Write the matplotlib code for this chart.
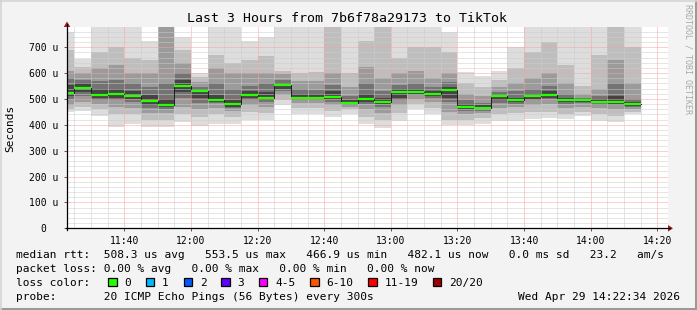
import numpy as np
import matplotlib as mpl
mpl.use('Agg')  # no display
import matplotlib.pyplot as plt
from matplotlib.patches import Rectangle, Polygon
from matplotlib.lines import Line2D

# 5 minute slots (minutes after 11:00 at which each slot starts)
slot_start = np.arange(20, 195, 5)

# median rtt per slot [us]
median = [524, 542.5, 515.5, 520.5, 511.6, 493.4, 476.8, 550, 532, 497, 480.7, 515.5,
          502.7, 553.5, 502.7, 502.7, 507.7, 485.7, 500, 488.4, 528.4, 528.4, 520.5, 536,
          470.3, 466.9, 512.9, 495, 510.4, 515.5, 495, 495, 489.7, 489.7, 482.1]

# smoke bands, outer (lo1/hi1) to inner (lo5/hi5) [us]
lo1 = [448, 452, 435, 392, 405, 392, 390, 412, 395, 405, 405, 418, 418, 476, 440, 440, 430, 440,
       405, 388, 415, 460, 440, 398, 400, 405, 415, 415, 422, 425, 422, 435, 415, 410, 440]
lo2 = [462, 468, 460, 440, 440, 420, 420, 440, 430, 440, 430, 450, 445, 495, 465, 465, 455, 460,
       430, 420, 445, 480, 465, 420, 420, 425, 440, 445, 450, 450, 440, 450, 440, 435, 450]
lo3 = [478, 490, 480, 470, 465, 445, 445, 470, 460, 465, 455, 475, 470, 515, 485, 485, 475, 470,
       460, 445, 475, 500, 490, 450, 440, 445, 465, 470, 475, 480, 465, 470, 465, 460, 460]
lo4 = [500, 510, 495, 495, 490, 465, 460, 505, 485, 485, 465, 495, 490, 530, 495, 495, 490, 478,
       480, 470, 495, 515, 505, 490, 455, 455, 485, 480, 495, 500, 480, 485, 478, 475, 468]
lo5 = [510, 525, 505, 505, 500, 478, 470, 525, 505, 490, 470, 505, 495, 540, 500, 500, 500, 482,
       490, 480, 505, 520, 510, 505, 462, 460, 495, 488, 500, 505, 488, 490, 484, 482, 472]
hi5 = [555, 560, 540, 540, 530, 515, 500, 575, 540, 515, 495, 530, 525, 560, 520, 520, 530, 495,
       520, 505, 540, 540, 530, 545, 480, 475, 520, 505, 520, 530, 505, 500, 500, 510, 490]
hi4 = [580, 575, 570, 575, 560, 545, 560, 600, 548, 560, 540, 550, 560, 575, 540, 535, 555, 510,
       560, 530, 555, 560, 545, 565, 495, 485, 525, 530, 540, 550, 520, 505, 510, 560, 500]
hi3 = [610, 600, 620, 630, 600, 600, 790, 640, 565, 620, 600, 600, 600, 595, 570, 570, 600, 545,
       622, 580, 600, 610, 580, 600, 520, 510, 545, 560, 580, 600, 560, 520, 540, 650, 560]
hi2 = [690, 625, 680, 700, 660, 650, 800, 690, 585, 670, 640, 650, 665, 610, 600, 605, 800, 600,
       725, 800, 660, 700, 700, 680, 560, 545, 575, 620, 680, 720, 630, 550, 670, 800, 700]
hi1 = [758, 655, 800, 800, 790, 725, 820, 740, 602, 790, 790, 725, 740, 790, 780, 780, 820, 780,
       790, 820, 780, 780, 780, 758, 603, 590, 610, 700, 780, 790, 790, 790, 790, 820, 790]

xtick_labels = ["11:40", "12:00", "12:20", "12:40", "13:00", "13:20", "13:40", "14:00", "14:20"]
ytick_labels = ["0  ", "100 u", "200 u", "300 u", "400 u", "500 u", "600 u", "700 u"]

loss_labels = ["0", "1", "2", "3", "4-5", "6-10", "11-19", "20/20"]
loss_colors = ["#26ff00", "#00b8ff", "#0059ff", "#5e00ff", "#ff00ff", "#ff5500", "#ff0000", "#a00000"]

W, H = 697, 310
MONO = 'DejaVu Sans Mono'


def px(x, y):
    return x / W, 1 - y / H


fig = plt.figure(figsize=(W / 100, H / 100), dpi=100, facecolor='#f3f3f3')
x0, y0 = px(67, 228.3)
x1, y1 = px(668, 27.3)
ax = fig.add_axes([x0, y0, x1 - x0, y1 - y0])
ax.set_facecolor('white')

# smoke
greys = ['#dddddd', '#bebebe', '#9b9b9b', '#737373', '#444444']
bands = [(lo1, hi1), (lo2, hi2), (lo3, hi3), (lo4, hi4), (lo5, hi5)]
for (lo, hi), c in zip(bands, greys):
    ax.bar(slot_start, np.array(hi) - np.array(lo), bottom=lo, width=5, align='edge',
           color=c, linewidth=0, zorder=1)

# median line
edges = np.append(slot_start, slot_start[-1] + 5)
ax.step(edges, np.append(median, median[-1]), where='post', color='#202020', lw=0.72, zorder=3)
ax.hlines(median, slot_start, slot_start + 5, color=loss_colors[0], lw=1.6, zorder=4)

ax.set_xlim(22.8, 203.2)
ax.set_ylim(0, 777)
ax.set_xticks(np.arange(40, 201, 20))
ax.set_xticks(np.arange(25, 205, 5), minor=True)
ax.set_xticklabels(xtick_labels)
ax.set_yticks(np.arange(0, 701, 100))
ax.set_yticks(np.arange(0, 780, 20), minor=True)
ax.set_yticklabels(ytick_labels)
ax.set_axisbelow(False)
ax.grid(which='minor', color='#cccccc', ls=(0, (1, 1)), lw=0.72)
ax.grid(which='major', color='#ffa0a0', ls=(0, (1, 1)), lw=0.72)
ax.tick_params(which='major', length=2.2, width=0.72, color='#606060', pad=3,
               labelsize=7, labelfamily=MONO) if False else None
ax.tick_params(which='major', length=2.2, width=0.72, color='#606060', pad=3, labelsize=7)
ax.tick_params(which='minor', length=0)
ax.tick_params(axis='y', pad=4)
for lab in ax.get_xticklabels() + ax.get_yticklabels():
    lab.set_family(MONO)
for s in ax.spines.values():
    s.set_visible(False)

# axes lines with arrows
fig.add_artist(Line2D([px(66, 0)[0], px(670, 0)[0]], [y0, y0], color='black', lw=0.9))
fig.add_artist(Line2D([x0, x0], [px(0, 230)[1], px(0, 24)[1]], color='black', lw=0.9))
fig.add_artist(Polygon([px(668, 225), px(673, 228.3), px(668, 231.6)], closed=True,
                       color='#a02020', lw=0))
fig.add_artist(Polygon([px(63.7, 27), px(67, 21.5), px(70.3, 27)], closed=True,
                       color='#a02020', lw=0))

# texts
fig.text(*px(347, 19), "Last 3 Hours from 7b6f78a29173 to TikTok", ha='center', va='center',
         family=MONO, fontsize=9.5)
fig.text(*px(10, 128), "Seconds", rotation=90, ha='center', va='center', family=MONO, fontsize=8)
fig.text(*px(688, 4), "RRDTOOL / TOBI OETIKER", rotation=270, ha='center', va='top',
         family=MONO, fontsize=6, color='#a8a8a8')

fs = 8
fig.text(*px(16, 258), "median rtt:  508.3 us avg   553.5 us max   466.9 us min   "
         "482.1 us now   0.0 ms sd   23.2   am/s", family=MONO, fontsize=fs, va='baseline')
fig.text(*px(16, 272), "packet loss: 0.00 % avg   0.00 % max   0.00 % min   0.00 % now",
         family=MONO, fontsize=fs, va='baseline')
fig.text(*px(16, 286), "loss color:", family=MONO, fontsize=fs, va='baseline')
xb = 108.3
for lab, c in zip(loss_labels, loss_colors):
    bx, by = px(xb, 286)
    fig.add_artist(Rectangle((bx, by), 8.3 / W, 8.5 / H, transform=fig.transFigure,
                             facecolor=c, edgecolor='black', lw=0.9))
    fig.text(*px(xb + 16, 286), lab, family=MONO, fontsize=fs, va='baseline')
    xb += 16 + len(lab) * 6.72 + 15
fig.text(*px(16, 300), "probe:       20 ICMP Echo Pings (56 Bytes) every 300s",
         family=MONO, fontsize=fs, va='baseline')
fig.text(*px(680, 300), "Wed Apr 29 14:22:34 2026", family=MONO, fontsize=fs, va='baseline',
         ha='right')

# frame
fig.add_artist(Line2D([0, 1], [px(0, 308.5)[1]] * 2, color='#9a9a9a', lw=2.2))
fig.add_artist(Line2D([px(695.5, 0)[0]] * 2, [0, 1], color='#9a9a9a', lw=2.2))
fig.add_artist(Line2D([0, 1], [px(0, 0.5)[1]] * 2, color='#d4d4d4', lw=1.2))
fig.add_artist(Line2D([px(0.5, 0)[0]] * 2, [0, 1], color='#d4d4d4', lw=1.2))

fig.savefig('out.png', dpi=100, facecolor=fig.get_facecolor())
